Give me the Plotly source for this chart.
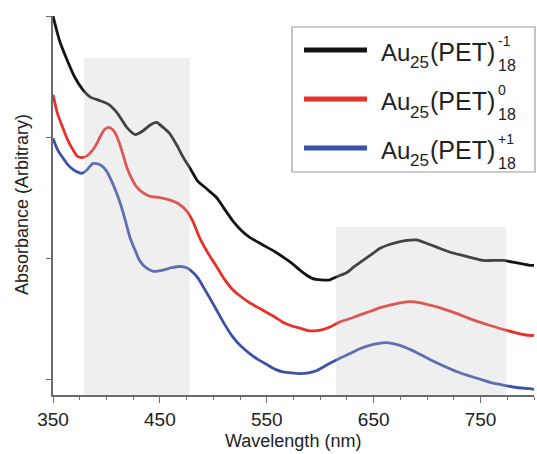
import plotly.graph_objects as go

# ---------------- data ----------------
wl_black = [350, 356, 363, 370, 378, 385, 394, 402, 410, 419, 427, 434, 441, 447, 453, 459, 466, 472, 479, 485,
            494, 503, 510, 518, 526, 534, 542, 550, 558, 565, 573, 581, 587, 593, 601, 609, 617, 625, 632, 640,
            648, 656, 664, 672, 681, 690, 700, 709, 721, 734, 743, 752, 762, 771, 784, 796, 800]
ab_black = [3.00, 2.80, 2.64, 2.50, 2.39, 2.33, 2.30, 2.27, 2.20, 2.08, 2.02, 2.05, 2.10, 2.12, 2.08, 2.03, 1.93, 1.83, 1.73, 1.64,
            1.57, 1.50, 1.41, 1.31, 1.23, 1.17, 1.13, 1.09, 1.05, 1.01, 0.96, 0.90, 0.86, 0.83, 0.82, 0.82, 0.85, 0.88, 0.93, 0.98,
            1.03, 1.08, 1.11, 1.13, 1.145, 1.15, 1.12, 1.09, 1.05, 1.02, 1.00, 0.98, 0.98, 0.98, 0.96, 0.94, 0.94]

wl_red = [350, 354, 359, 364, 369, 373, 377, 381, 385, 390, 394, 398, 402, 406, 410, 415, 419, 424, 428, 434,
          441, 450, 459, 467, 475, 481, 487, 495, 503, 510, 518, 526, 534, 542, 550, 558, 565, 573, 581, 589,
          597, 603, 609, 618, 628, 637, 647, 656, 665, 675, 684, 694, 703, 715, 728, 738, 749, 760, 771, 784, 796, 800]
ab_red = [2.35, 2.20, 2.08, 1.97, 1.89, 1.84, 1.83, 1.84, 1.87, 1.93, 2.00, 2.06, 2.08, 2.06, 2.00, 1.87, 1.75, 1.65, 1.59, 1.54,
          1.51, 1.50, 1.48, 1.45, 1.39, 1.30, 1.17, 1.04, 0.93, 0.83, 0.74, 0.68, 0.63, 0.59, 0.55, 0.51, 0.47, 0.44, 0.42, 0.40,
          0.40, 0.41, 0.43, 0.47, 0.50, 0.53, 0.56, 0.59, 0.61, 0.63, 0.64, 0.63, 0.61, 0.58, 0.54, 0.505, 0.47, 0.44, 0.41, 0.38, 0.36, 0.36]

wl_blue = [350, 354, 359, 364, 369, 373, 377, 382, 387, 391, 396, 400, 403, 408, 413, 418, 422, 427, 431, 437,
           444, 453, 461, 469, 475, 481, 486, 490, 496, 503, 510, 518, 526, 534, 542, 550, 558, 565, 573, 581,
           589, 597, 603, 609, 618, 628, 637, 647, 655, 661, 669, 677, 690, 703, 715, 728, 738, 749, 760, 771, 784, 796, 800]
ab_blue = [1.99, 1.90, 1.83, 1.77, 1.73, 1.71, 1.70, 1.73, 1.78, 1.78, 1.76, 1.72, 1.67, 1.57, 1.45, 1.30, 1.17, 1.06, 0.98, 0.92,
           0.89, 0.90, 0.92, 0.93, 0.92, 0.88, 0.83, 0.77, 0.68, 0.57, 0.46, 0.35, 0.27, 0.21, 0.16, 0.12, 0.08, 0.06, 0.05, 0.045,
           0.05, 0.07, 0.10, 0.13, 0.17, 0.21, 0.25, 0.28, 0.295, 0.30, 0.29, 0.27, 0.22, 0.16, 0.11, 0.06, 0.03, 0.00, -0.03, -0.05, -0.07, -0.08, -0.085]

charges = ["-1", "0", "+1"]
x_labelled = [350, 450, 550, 650, 750]
x_unlabelled = [400, 500, 600, 700, 800]
y_tickvals = [0, 1, 2, 3]

# ---------------- figure ----------------
W, H = 537, 454
L, R, T, B = 53, 534, 16, 395
FONT = "Liberation Sans, Arial, sans-serif"
AXC = "#6a6a6a"
TXT = "#222"

def px(xp):
    return (xp - L) / (R - L)

def py(yp):
    return (B - yp) / (B - T)

colors = ["#141414", "#e6302b", "#3b52a6"]
fig = go.Figure()
for wl, ab, c, n in zip([wl_black, wl_red, wl_blue], [ab_black, ab_red, ab_blue], colors, charges):
    fig.add_trace(go.Scatter(x=wl, y=ab, mode="lines", name=n, showlegend=False,
                             line=dict(color=c, width=2.8, shape="spline", smoothing=0.6)))

shapes = [
    dict(type="rect", xref="x", yref="paper", x0=379, x1=478, y0=0, y1=py(58),
         fillcolor="rgba(195,195,200,0.27)", line=dict(width=0), layer="above"),
    dict(type="rect", xref="x", yref="paper", x0=615, x1=774, y0=0, y1=py(227),
         fillcolor="rgba(195,195,200,0.27)", line=dict(width=0), layer="above"),
    # legend box
    dict(type="rect", xref="paper", yref="paper", x0=px(292), x1=px(535), y0=py(172), y1=py(27),
         fillcolor="white", line=dict(color="#9a9a9a", width=1.2), layer="above"),
]
annotations = []


def label(text, xp, yp, size, anchor="left", angle=0):
    annotations.append(dict(xref="paper", yref="paper", x=px(xp), y=py(yp), xanchor=anchor, yanchor="middle",
                            text=text, showarrow=False, textangle=angle,
                            font=dict(family=FONT, size=size, color=TXT)))


row_y = [50, 99, 148]
for c, n, ry in zip(colors, charges, row_y):
    shapes.append(dict(type="line", xref="paper", yref="paper", x0=px(304), x1=px(367), y0=py(ry), y1=py(ry),
                       line=dict(color=c, width=5), layer="above"))
    label("Au", 379, ry + 2, 24)
    label("25", 408, ry + 13, 17)
    label("(PET)", 428, ry + 2, 25)
    label(n, 496, ry - 9, 14)
    label("18", 496, ry + 15, 16)

label("Wavelength (nm)", 293, 441, 18, anchor="center")
label("Absorbance (Arbitrary)", 22, 205, 18, anchor="center", angle=-90)

fig.update_layout(
    width=W, height=H,
    margin=dict(l=L, r=W - R, t=T, b=H - B, pad=0),
    paper_bgcolor="white", plot_bgcolor="white",
    shapes=shapes, annotations=annotations,
    xaxis=dict(range=[350, 800], tickmode="array", tickvals=x_labelled,
               ticks="outside", ticklen=6, tickwidth=1.3, tickcolor=AXC,
               showline=True, linecolor=AXC, linewidth=1.5, showgrid=False, zeroline=False,
               tickfont=dict(family=FONT, size=19, color=TXT),
               minor=dict(tickmode="linear", tick0=350, dtick=25, ticks="outside", ticklen=3,
                          tickcolor=AXC, tickwidth=1.2, showgrid=False)),
    xaxis2=dict(range=[350, 800], overlaying="x", anchor="y", side="bottom", tickmode="array",
                tickvals=x_unlabelled, showticklabels=False, ticks="outside", ticklen=6, tickwidth=1.3,
                tickcolor=AXC, showline=False, showgrid=False, zeroline=False),
    yaxis=dict(range=[-0.132, 3.0], tickmode="array", tickvals=y_tickvals, showticklabels=False,
               ticks="outside", ticklen=5, tickwidth=1.3, tickcolor=AXC,
               showline=True, linecolor=AXC, linewidth=1.5, showgrid=False, zeroline=False),
)

fig.write_html("out.html")
